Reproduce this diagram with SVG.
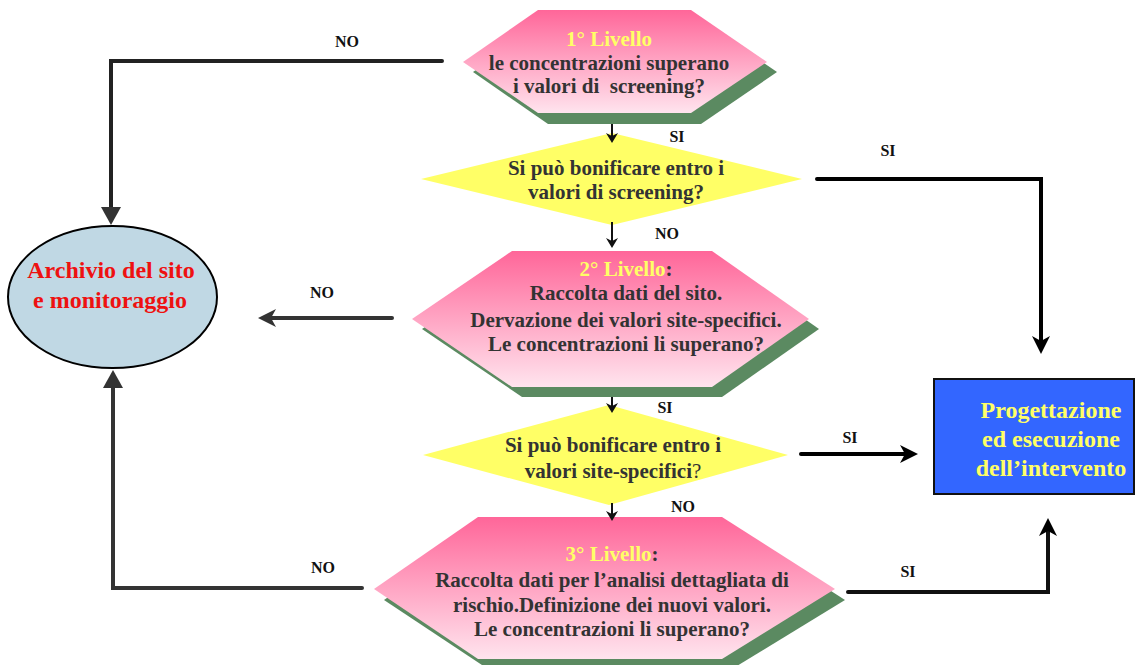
<svg xmlns="http://www.w3.org/2000/svg" width="1136" height="665" viewBox="0 0 1136 665">
<defs>
<linearGradient id="pink" x1="0" y1="0" x2="0" y2="1">
<stop offset="0" stop-color="#ff6699"/>
<stop offset="1" stop-color="#ffe4ee"/>
</linearGradient>
<marker id="tri" markerUnits="userSpaceOnUse" markerWidth="20" markerHeight="20" refX="2" refY="10" orient="auto" viewBox="0 0 20 20">
<path d="M0,0 L18,10 L0,20 Z" fill="#333"/>
</marker>
<marker id="stealth" markerUnits="userSpaceOnUse" markerWidth="20" markerHeight="20" refX="6" refY="9" orient="auto" viewBox="0 0 20 20">
<path d="M0,0 L18,9 L0,18 L5,9 Z" fill="#000"/>
</marker>
<marker id="stealthg" markerUnits="userSpaceOnUse" markerWidth="20" markerHeight="20" refX="6" refY="9" orient="auto" viewBox="0 0 20 20">
<path d="M0,0 L18,9 L0,18 L5,9 Z" fill="#333"/>
</marker>
<marker id="small" markerUnits="userSpaceOnUse" markerWidth="14" markerHeight="14" refX="4" refY="6" orient="auto" viewBox="0 0 14 14">
<path d="M0,0 L10,6 L0,12 L3,6 Z" fill="#111"/>
</marker>
</defs>
<style>
.t{font-family:"Liberation Serif","Times New Roman",serif;font-weight:bold;font-size:21px;fill:#333;text-anchor:middle}
.y{fill:#ffff66}
.lbl{font-family:"Liberation Serif","Times New Roman",serif;font-weight:bold;font-size:16px;fill:#111;text-anchor:middle}
.shadow{fill:#5b8a61}
.hex{fill:url(#pink)}
.dia{fill:#ffff66}
.con{fill:none;stroke-width:4;stroke-linecap:round;stroke-linejoin:miter}
.sm{fill:none;stroke:#111;stroke-width:2}
</style>
<rect width="1136" height="665" fill="#fff"/>

<g id="livello1">
<polygon class="shadow" points="548,20 701,20 777,72 701,124 548,124 473,72"/>
<polygon class="hex" points="538,10 691,10 767,62 691,113 538,113 463,62"/>
<text class="t" x="609" y="46"><tspan class="y">1° Livello</tspan></text>
<text class="t" x="609" y="70">le concentrazioni superano</text>
<text class="t" x="609" y="93" xml:space="preserve">i valori di  screening?</text>
</g>

<g id="screening">
<polygon class="dia" points="612,133 802,179 612,225 421,179"/>
<text class="t" x="616" y="175">Si può bonificare entro i</text>
<text class="t" x="616" y="199">valori di screening?</text>
</g>

<g id="livello2">
<polygon class="shadow" points="522,261 722,261 819,329 722,397 522,397 422,329"/>
<polygon class="hex" points="512,251 712,251 809,319 712,387 512,387 412,319"/>
<text class="t" x="626" y="276"><tspan class="y">2° Livello</tspan>:</text>
<text class="t" x="626" y="300">Raccolta dati del sito.</text>
<text class="t" x="626" y="327">Dervazione dei valori site-specifici.</text>
<text class="t" x="626" y="351">Le concentrazioni li superano?</text>
</g>

<g id="sitespecifici">
<polygon class="dia" points="609,405 788,455 609,505 423,455"/>
<text class="t" x="613" y="452">Si può bonificare entro i</text>
<text class="t" x="613" y="478">valori site-specifici<tspan font-weight="normal">?</tspan></text>
</g>

<g id="livello3">
<polygon class="shadow" points="488,527 732,527 845,600 732,669 488,669 384,600"/>
<polygon class="hex" points="478,517 722,517 835,589 722,659 478,659 374,589"/>
<text class="t" x="612" y="561"><tspan class="y">3° Livello</tspan>:</text>
<text class="t" x="612" y="587">Raccolta dati per l’analisi dettagliata di</text>
<text class="t" x="612" y="612">rischio.Definizione dei nuovi valori.</text>
<text class="t" x="612" y="636">Le concentrazioni li superano?</text>
</g>

<g id="archivio">
<ellipse cx="112.5" cy="297" rx="104.5" ry="71" fill="#c0d8e4" stroke="#000" stroke-width="2"/>
<text class="t" x="111" y="278" style="font-size:24px;fill:#ee1111">Archivio del sito</text>
<text class="t" x="110" y="308" style="font-size:24px;fill:#ee1111">e monitoraggio</text>
</g>

<g id="progettazione">
<rect x="934" y="379" width="200" height="115" fill="#3366ff" stroke="#111" stroke-width="2"/>
<text class="t y" x="1051" y="418" style="font-size:24px">Progettazione</text>
<text class="t y" x="1051" y="447" style="font-size:24px">ed esecuzione</text>
<text class="t y" x="1051" y="476" style="font-size:24px">dell’intervento</text>
</g>

<g id="connectors">
<path class="con" d="M442,61 L111,61 L111,209" stroke="#222" marker-end="url(#tri)"/>
<path class="con" d="M817,179 L1041,179 L1041,342" stroke="#000" marker-end="url(#stealth)"/>
<path class="con" d="M392,318 L270,318" stroke="#333" marker-end="url(#stealthg)"/>
<path class="con" d="M362,588 L113,588 L113,386" stroke="#333" marker-end="url(#tri)"/>
<path class="con" d="M801,454 L906,454" stroke="#000" marker-end="url(#stealth)"/>
<path class="con" d="M848,592 L1048,592 L1048,530" stroke="#111" marker-end="url(#stealth)"/>
<path class="sm" d="M612,124 L612,137" marker-end="url(#small)"/>
<path class="sm" d="M612,222 L612,242" marker-end="url(#small)"/>
<path class="sm" d="M612,397 L612,407" marker-end="url(#small)"/>
<path class="sm" d="M612,503 L612,515" marker-end="url(#small)"/>
<text class="lbl" x="347" y="47">NO</text>
<text class="lbl" x="888" y="156">SI</text>
<text class="lbl" x="677" y="142">SI</text>
<text class="lbl" x="667" y="239">NO</text>
<text class="lbl" x="322" y="298">NO</text>
<text class="lbl" x="665" y="413">SI</text>
<text class="lbl" x="850" y="443">SI</text>
<text class="lbl" x="683" y="512">NO</text>
<text class="lbl" x="323" y="573">NO</text>
<text class="lbl" x="908" y="577">SI</text>
</g>
</svg>
